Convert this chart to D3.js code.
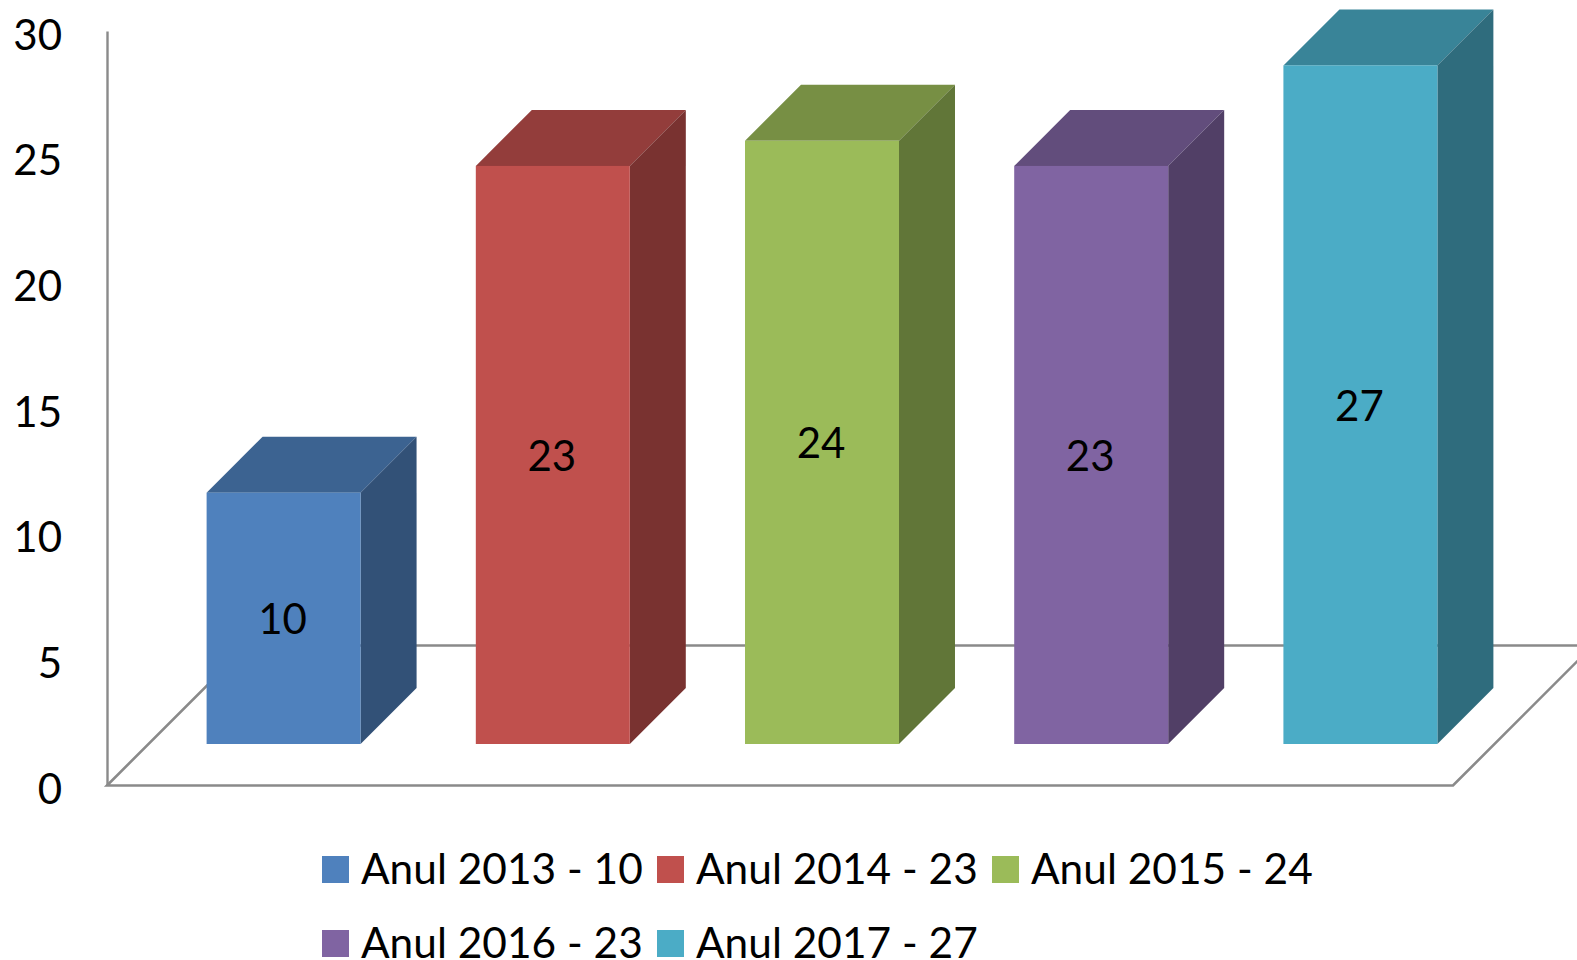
<!DOCTYPE html>
<html>
<head>
<meta charset="utf-8">
<script src="https://d3js.org/d3.v7.min.js"></script>
<style>
  body { margin: 0; background: #fff; overflow: hidden; }
  svg { display: block; }
  text { font-family: Lato, "Open Sans", sans-serif; fill: #000; }
</style>
</head>
<body>
<div id="chart"></div>
<script>
// data
var categories = ["Anul 2013", "Anul 2014", "Anul 2015", "Anul 2016", "Anul 2017"];
var values = [10, 23, 24, 23, 27];
var yTicks = [0, 5, 10, 15, 20, 25, 30];
var colors = ["#4f81bd", "#c0504d", "#9bbb59", "#8064a2", "#4bacc6"];

var w = 1577, h = 960;

// 3d look: floor depth, how far the bars stand from the front edge, bar depth
var floorDepth = 140, barOffset = 41, barDepth = 56;
var axisColor = "#8a8a8a";

var svg = d3.select("#chart").append("svg")
    .attr("width", w)
    .attr("height", h);

var x = d3.scaleBand()
    .domain(categories)
    .range([107, 1453])
    .paddingInner(0.428)
    .paddingOuter(0.214);

var y = d3.scaleLinear()
    .domain([0, 30])
    .range([785, 31]);

// floor
var x0 = x.range()[0], x1 = x.range()[1], y0 = y(0) + 0.5;
svg.append("path")
    .attr("d", "M" + x0 + "," + y0 + "L" + x1 + "," + y0 + "L" + (x1 + floorDepth) + "," + (y0 - floorDepth) +
               "L" + (x0 + floorDepth) + "," + (y0 - floorDepth) + "Z")
    .attr("fill", "none")
    .attr("stroke", axisColor)
    .attr("stroke-width", 2.6);

// y axis
var yAxis = d3.axisLeft(y)
    .tickValues(yTicks)
    .tickSize(0)
    .tickPadding(45);

var axisG = svg.append("g")
    .attr("transform", "translate(" + x0 + ",0)")
    .call(yAxis);
axisG.select(".domain").attr("stroke", axisColor).attr("stroke-width", 2.4);
axisG.selectAll("text")
    .attr("dy", "0.43em")
    .style("font-family", "Lato, 'Open Sans', sans-serif")
    .style("font-size", "42px");

// bars: front, top and side faces
var bars = svg.selectAll("g.bar")
    .data(values)
    .enter()
    .append("g")
    .attr("class", "bar");

function left(d, i) { return x(categories[i]) + barOffset + 1; }
function right(d, i) { return left(d, i) + x.bandwidth(); }
function top_(d) { return y(d) - barOffset; }
function bottom() { return y(0) - barOffset; }

bars.append("path")
    .attr("fill", function(d, i) { return d3.rgb(colors[i]).darker(0.75); })
    .attr("d", function(d, i) {
        var l = left(d, i), r = right(d, i), t = top_(d);
        return "M" + l + "," + t + "L" + r + "," + t + "L" + (r + barDepth) + "," + (t - barDepth) +
               "L" + (l + barDepth) + "," + (t - barDepth) + "Z";
    });

bars.append("path")
    .attr("fill", function(d, i) { return d3.rgb(colors[i]).darker(1.3); })
    .attr("d", function(d, i) {
        var r = right(d, i), t = top_(d), b = bottom();
        return "M" + r + "," + t + "L" + (r + barDepth) + "," + (t - barDepth) + "L" + (r + barDepth) + "," + (b - barDepth) +
               "L" + r + "," + b + "Z";
    });

bars.append("rect")
    .attr("x", left)
    .attr("y", top_)
    .attr("width", x.bandwidth())
    .attr("height", function(d) { return bottom() - top_(d); })
    .attr("fill", function(d, i) { return colors[i]; });

bars.append("text")
    .text(function(d) { return d; })
    .attr("x", function(d, i) { return left(d, i) + x.bandwidth() / 2 - 1; })
    .attr("y", function(d) { return (top_(d) + bottom()) / 2 + 16; })
    .style("text-anchor", "middle")
    .style("font-size", "42px");

// legend, 3 per row
var legend = svg.selectAll("g.legend")
    .data(categories)
    .enter()
    .append("g")
    .attr("class", "legend")
    .attr("transform", function(d, i) {
        return "translate(" + (322 + (i % 3) * 335) + "," + (856 + Math.floor(i / 3) * 74) + ")";
    });

legend.append("rect")
    .attr("width", 27)
    .attr("height", 27)
    .attr("fill", function(d, i) { return colors[i]; });

legend.append("text")
    .text(function(d, i) { return d + " - " + values[i]; })
    .attr("x", 39)
    .attr("y", 28)
    .style("font-size", "42.4px");
</script>
</body>
</html>
